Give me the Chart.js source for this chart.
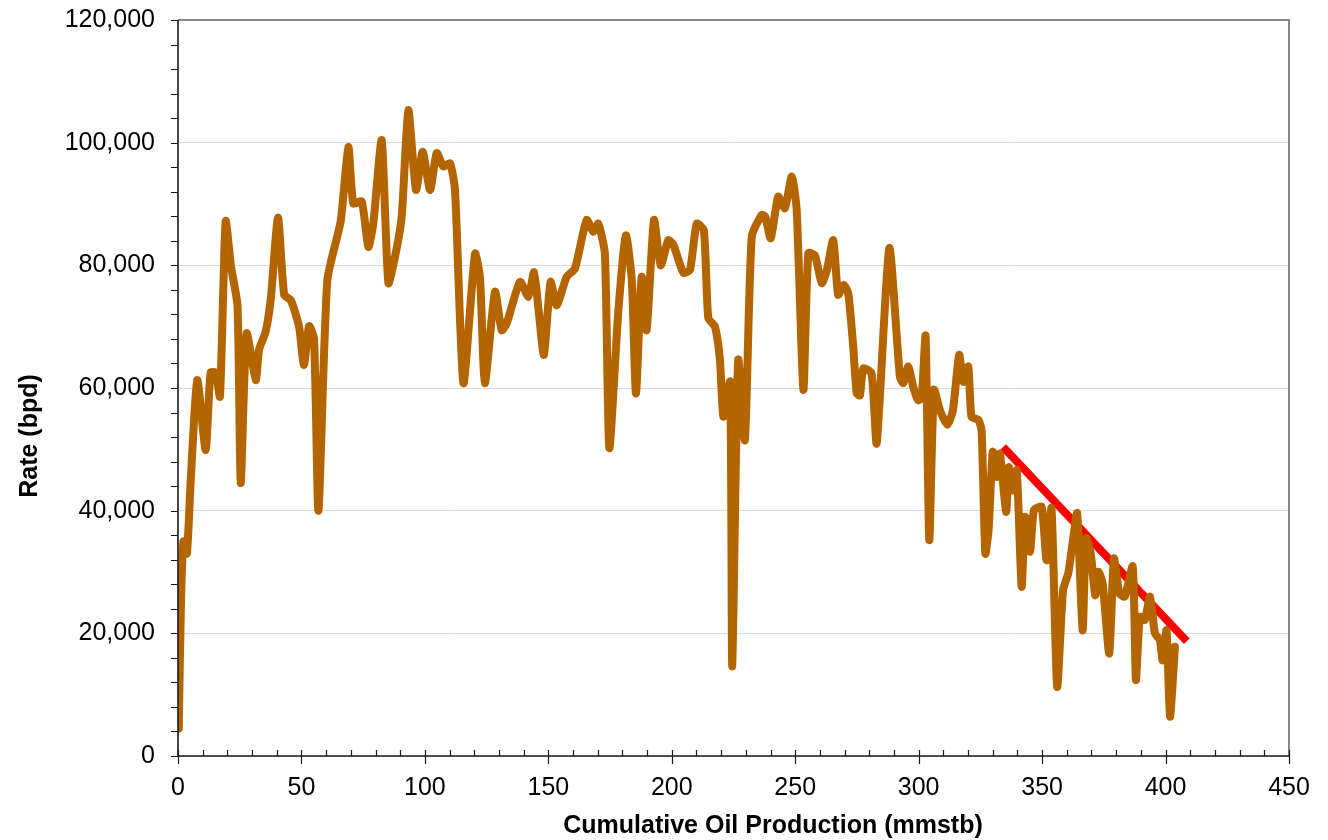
<!DOCTYPE html>
<html>
<head>
<meta charset="utf-8">
<script src="https://cdn.jsdelivr.net/npm/chart.js@4.4.1/dist/chart.umd.min.js"></script>
<style>
html,body{margin:0;padding:0;background:#fff;}
#wrap{width:1328px;height:840px;position:relative;}
</style>
</head>
<body>
<div id="wrap"><canvas id="c" width="1328" height="840"></canvas></div>
<script>
// ---- data ----
const cumOil = [0.3,1.2,2.2,3.6,5.1,7.8,11.2,13.2,15.3,17.0,19.3,21.4,24.1,25.4,27.8,31.5,32.8,35.5,37.6,40.5,43.0,45.7,49.0,51.0,53.1,55.1,56.9,60.5,65.9,69.0,71.0,74.4,77.1,79.1,82.5,85.2,87.9,90.6,93.3,96.4,99.1,102.1,104.8,107.5,110.2,112.2,115.6,120.3,122.3,124.3,128.4,131.1,133.1,138.5,141.9,144.2,145.9,148.2,150.9,153.4,157.4,160.8,165.5,168.2,170.2,172.9,174.7,178.3,181.4,183.8,185.5,187.8,189.8,192.8,195.5,198.6,200.6,204.7,207.4,210.1,213.0,214.8,217.5,219.5,220.9,223.6,224.5,226.9,229.6,232.4,236.4,237.8,240.1,243.1,245.8,248.6,250.6,253.3,255.3,258.0,260.7,262.7,265.4,267.4,269.7,271.5,273.5,274.9,276.2,277.6,280.9,283.0,288.1,292.4,293.8,295.8,297.8,299.8,301.2,302.8,304.3,306.2,308.6,311.6,313.9,316.4,318.1,320.1,321.4,324.2,325.5,327.0,328.3,330.0,331.5,332.9,335.4,336.5,337.7,339.7,341.7,343.1,345.1,346.7,349.8,351.8,353.8,356.1,358.5,360.6,362.6,364.2,366.4,367.8,369.7,371.5,372.8,374.5,377.2,379.1,381.3,383.5,386.7,388.0,389.6,391.6,393.7,395.7,397.7,398.8,400.4,401.8,403.8];
const rate = [4500,25000,35000,33000,44500,61300,49900,62500,62500,58600,87200,80000,73400,44500,68900,61300,66200,69200,74600,87800,75200,74300,70100,63750,70100,68000,40000,77600,87200,99300,90100,90400,83000,86800,100400,77100,81400,87900,105300,92300,98500,92300,98300,96100,96600,92300,60800,81900,78100,60800,75700,69400,70500,77300,74900,78900,73300,65400,77300,73500,78100,79500,87400,85500,86800,81900,50200,72200,84900,77600,59100,78100,69400,87400,80000,84100,83400,78800,79300,86800,85700,71400,70000,64600,55300,61000,14600,64600,51500,84700,88200,88000,84400,91200,89300,94500,89000,59700,82000,81600,77100,79000,84100,75200,76800,75400,66700,59100,58800,63200,62400,51000,82800,61800,60800,63500,60200,58000,58300,68500,35200,59700,56400,54000,56400,65400,61000,63500,55300,54800,53000,33000,36800,49600,45500,49300,39800,47100,43300,46600,27600,39000,33300,40100,40600,31900,40400,11300,27100,29800,35500,39600,20500,35500,33000,26200,30000,28200,16700,32200,26500,26000,30900,12400,22700,22200,26000,20000,18900,15600,20500,6400,17800];
const trendX = [334.2, 408.6];
const trendY = [50400, 18700];
const xTicks = [0,50,100,150,200,250,300,350,400,450];
const yTicks = [0,20000,40000,60000,80000,100000,120000];
const xTitle = 'Cumulative Oil Production (mmstb)';
const yTitle = 'Rate (bpd)';

const FONT = '"Liberation Sans", Arial, sans-serif';

const decor = {
  id: 'decor',
  afterDraw(chart) {
    const ctx = chart.ctx;
    const xs = chart.scales.x, ys = chart.scales.y;
    const L = xs.left, R = xs.right, T = ys.top, B = ys.bottom;
    ctx.save();
    // top and right border
    ctx.strokeStyle = '#868686';
    ctx.lineWidth = 2;
    ctx.beginPath();
    ctx.moveTo(L, T); ctx.lineTo(R, T); ctx.lineTo(R, B);
    ctx.stroke();
    // axes
    ctx.strokeStyle = '#1a1a1a';
    ctx.lineWidth = 1.6;
    ctx.beginPath();
    ctx.moveTo(L, T); ctx.lineTo(L, B); ctx.lineTo(R, B);
    ctx.stroke();
    // y ticks (major + minor), outward
    ctx.lineWidth = 1.2;
    ctx.beginPath();
    for (let v = 0; v <= 120000; v += 4000) {
      const py = Math.round(ys.getPixelForValue(v)) + 0.5;
      ctx.moveTo(L - 7, py); ctx.lineTo(L, py);
    }
    // x ticks: minor inward, major cross
    for (let v = 0; v <= 450; v += 10) {
      const px = Math.round(xs.getPixelForValue(v)) + 0.5;
      if (v % 50 === 0) { ctx.moveTo(px, B - 6); ctx.lineTo(px, B + 8); }
      else { ctx.moveTo(px, B - 6); ctx.lineTo(px, B); }
    }
    ctx.stroke();
    // titles
    ctx.fillStyle = '#000';
    ctx.font = 'bold 25px ' + FONT;
    ctx.textAlign = 'center';
    ctx.textBaseline = 'middle';
    ctx.fillText(xTitle, 773, 826);
    ctx.translate(30, 436);
    ctx.rotate(-Math.PI / 2);
    ctx.fillText(yTitle, 0, 0);
    ctx.restore();
  }
};

new Chart(document.getElementById('c'), {
  type: 'line',
  data: {
    datasets: [
      {
        label: 'Rate',
        data: cumOil.map((x, i) => ({ x: x, y: rate[i] })),
        borderColor: '#B46500',
        borderWidth: 8,
        pointRadius: 0,
        tension: 0.2,
        borderJoinStyle: 'round',
        borderCapStyle: 'round',
        fill: false
      },
      {
        label: 'Trend',
        data: trendX.map((x, i) => ({ x: x, y: trendY[i] })),
        borderColor: '#FF0000',
        borderWidth: 8,
        pointRadius: 0,
        tension: 0,
        fill: false
      }
    ]
  },
  options: {
    responsive: false,
    animation: false,
    devicePixelRatio: 1,
    layout: { padding: { left: 0, top: 20, right: 39, bottom: 0 } },
    plugins: { legend: { display: false }, tooltip: { enabled: false } },
    scales: {
      x: {
        type: 'linear',
        min: 0, max: 450,
        afterBuildTicks: (s) => { s.ticks = xTicks.map(v => ({ value: v })); },
        afterFit: (s) => { s.height = 84; s.paddingLeft = 0; s.paddingRight = 0; },
        grid: { display: false, drawTicks: false },
        border: { display: false },
        ticks: { font: { size: 25, family: FONT }, color: '#000', padding: 17, maxRotation: 0 }
      },
      y: {
        type: 'linear',
        min: 0, max: 120000,
        afterBuildTicks: (s) => { s.ticks = yTicks.map(v => ({ value: v })); },
        afterFit: (s) => { s.width = 178; s.paddingTop = 0; s.paddingBottom = 0; },
        grid: { color: '#d9d9d9', lineWidth: 1, drawTicks: false },
        border: { display: false },
        ticks: {
          font: { size: 25, family: FONT }, color: '#000', padding: 23,
          callback: (v) => v.toLocaleString('en-US')
        }
      }
    }
  },
  plugins: [decor]
});
</script>
</body>
</html>
